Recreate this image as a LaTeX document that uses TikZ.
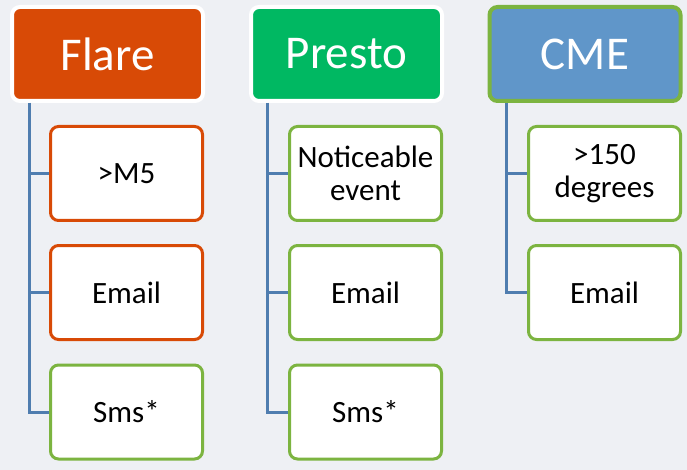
\documentclass[tikz,border=0pt]{standalone}
\usepackage{fontspec}
\setmainfont{Carlito}
\usetikzlibrary{calc}

\definecolor{bgcol}{RGB}{238,240,244}
\definecolor{flarecol}{RGB}{216,74,6}
\definecolor{prestocol}{RGB}{0,184,98}
\definecolor{cmecol}{RGB}{96,150,201}
\definecolor{leafgreen}{RGB}{124,180,64}
\definecolor{linkcol}{RGB}{79,125,175}

\begin{document}
\begin{tikzpicture}[x=1pt, y=-1pt,
    head/.style={rectangle, rounded corners=8pt, line width=4pt, draw=white,
      minimum width=191pt, minimum height=94pt, text=white,
      font=\fontsize{47}{52}\selectfont},
    leaf/.style={rectangle, rounded corners=8pt, line width=3pt, draw=leafgreen,
      fill=white, minimum width=152pt, minimum height=94pt, align=center,
      font=\fontsize{31}{33}\selectfont},
    link/.style={draw=linkcol, line width=3pt}]

  % ---------- background ----------
  \fill[bgcol] (0,0) rectangle (687,470);
  \useasboundingbox (0,0) rectangle (687,470);

  % ---------- headers ----------
  \node[head, fill=flarecol]  (flare)  at (107.5,54) {Flare};
  \node[head, fill=prestocol] (presto) at (346.5,54) {Presto};
  \node[head, fill=cmecol, draw=leafgreen] (cme) at (585,54) {CME};

  % ---------- Flare children ----------
  \node[leaf, draw=flarecol] (fm5)    at (126.5,173.5) {>M5};
  \node[leaf, draw=flarecol] (fmail)  at (126.5,292.5) {Email};
  \node[leaf]                (fsms)   at (126.5,412)   {Sms*};

  % ---------- Presto children ----------
  \node[leaf] (pevent) at (365.5,173.5) {Noticeable\\event};
  \node[leaf] (pmail)  at (365.5,292.5) {Email};
  \node[leaf] (psms)   at (365.5,412)   {Sms*};

  % ---------- CME children ----------
  \node[leaf] (cdeg)  at (604.5,173.5) {>150\\degrees};
  \node[leaf] (cmail) at (604.5,292.5) {Email};

  % ---------- connectors ----------
  \draw[link] ([xshift=19pt,yshift=-2pt]flare.south west) |- (fsms.west);
  \draw[link] ([xshift=19pt]flare.south west) |- (fm5.west);
  \draw[link] ([xshift=19pt]flare.south west) |- (fmail.west);

  \draw[link] ([xshift=18pt,yshift=-2pt]presto.south west) |- (psms.west);
  \draw[link] ([xshift=18pt]presto.south west) |- (pevent.west);
  \draw[link] ([xshift=18pt]presto.south west) |- (pmail.west);

  \draw[link] ([xshift=19pt,yshift=-2pt]cme.south west) |- (cmail.west);
  \draw[link] ([xshift=19pt]cme.south west) |- (cdeg.west);

\end{tikzpicture}
\end{document}
